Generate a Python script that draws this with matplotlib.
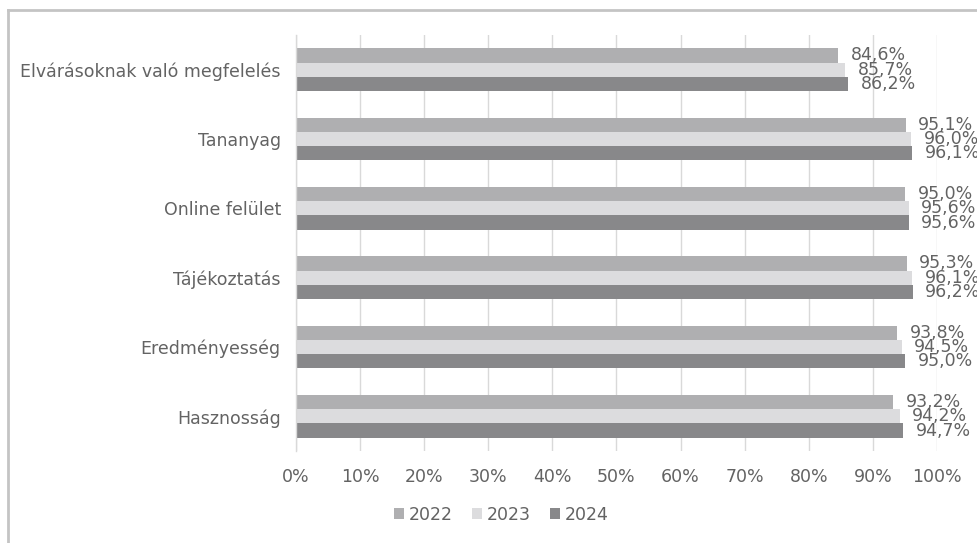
import numpy as np
import matplotlib
matplotlib.use("Agg")
import matplotlib.pyplot as plt
from matplotlib.lines import Line2D
from matplotlib.patches import Patch

categories = ["Elvárásoknak való megfelelés", "Tananyag", "Online felület",
              "Tájékoztatás", "Eredményesség", "Hasznosság"]
years = ["2022", "2023", "2024"]
v2022 = [84.6, 95.1, 95.0, 95.3, 93.8, 93.2]
v2023 = [85.7, 96.0, 95.6, 96.1, 94.5, 94.2]
v2024 = [86.2, 96.1, 95.6, 96.2, 95.0, 94.7]
series = [v2022, v2023, v2024]

COLORS = ["#afafb1", "#dcdcde", "#88888a"]
TXT = "#636363"
GRID = "#d9d9d9"

plt.rcParams["font.family"] = ["DejaVu Sans"]

fig = plt.figure(figsize=(9.77, 5.43), dpi=100)
ax = fig.add_axes([0.303, 0.1694, 0.656, 0.7661])

y = np.arange(len(categories))
h = 0.205
for i, (vals, col) in enumerate(zip(series, COLORS)):
    pos = y + (i - 1) * h
    ax.barh(pos, [v / 100 for v in vals], height=h, color=col, zorder=2)
    for p, v in zip(pos, vals):
        ax.annotate(f"{v:.1f}%".replace(".", ","), xy=(v / 100, p),
                    xytext=(9, 0), textcoords="offset points",
                    ha="left", va="center", fontsize=12.5, color=TXT)

ax.set_ylim(len(categories) - 0.5, -0.5)
ax.set_xlim(0, 1)
ax.set_xticks(np.linspace(0, 1, 11))
ax.set_xticklabels([f"{int(t)}%" for t in np.arange(0, 101, 10)])
ax.set_yticks(y)
ax.set_yticklabels(categories)
ax.tick_params(axis="both", length=0, labelsize=12.5, labelcolor=TXT)
ax.tick_params(axis="y", pad=11)
ax.tick_params(axis="x", pad=12)
ax.grid(axis="x", color=GRID, lw=1, zorder=0)
ax.set_axisbelow(True)
for s in ["top", "right", "bottom"]:
    ax.spines[s].set_visible(False)
ax.spines["left"].set_color(GRID)
ax.spines["left"].set_linewidth(1)

handles = [Patch(facecolor=c, edgecolor="none") for c in COLORS]
fig.legend(handles, years, loc="center", bbox_to_anchor=(0.513, 0.052),
           ncol=3, frameon=False, fontsize=12.5, labelcolor=TXT,
           handlelength=0.6, handleheight=0.6, handletextpad=0.25,
           columnspacing=1.1)

# chart frame (left and top edges visible)
fig.add_artist(Line2D([0.008, 0.008], [0.0, 0.981], color="#c4c4c4", lw=2))
fig.add_artist(Line2D([0.008, 1.0], [0.981, 0.981], color="#c4c4c4", lw=2))

fig.savefig("out.png", dpi=100)
